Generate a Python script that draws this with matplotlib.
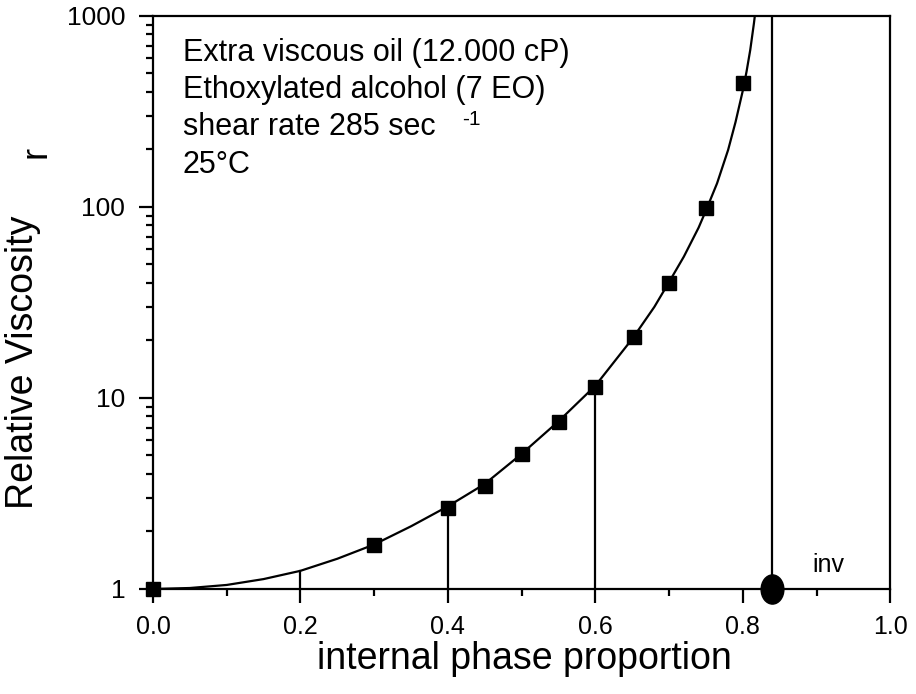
import matplotlib
matplotlib.use("Agg")
import matplotlib.pyplot as plt
from matplotlib.markers import MarkerStyle
from matplotlib.transforms import Affine2D
from matplotlib.ticker import (FixedLocator, FixedFormatter, MultipleLocator,
                               LogLocator, NullFormatter, FormatStrFormatter)

plt.rcParams['font.family'] = ['Liberation Sans', 'DejaVu Sans']

# measured points (internal phase proportion vs relative viscosity)
phi_data = [0.0, 0.3, 0.4, 0.45, 0.5, 0.55, 0.6, 0.653, 0.7, 0.75, 0.8]
eta_data = [1.0, 1.7, 2.66, 3.46, 5.1, 7.5, 11.4, 20.9, 40, 99, 446]

# fitted curve
phi_curve = [0.0, 0.05, 0.1, 0.15, 0.2, 0.25, 0.3, 0.35, 0.4, 0.45, 0.5,
             0.55, 0.6, 0.65, 0.68, 0.7, 0.72, 0.74, 0.75, 0.765, 0.78,
             0.79, 0.8, 0.805, 0.81, 0.815, 0.8162]
eta_curve = [1.0, 1.012, 1.05, 1.127, 1.245, 1.44, 1.71, 2.13, 2.71, 3.55, 5.1,
             7.55, 11.6, 20.4, 30, 40.5, 55, 78, 96, 133, 199,
             278, 408, 512, 664, 916, 1000]

# drop lines from the axis up to the curve
phi_drop = [0.2, 0.4, 0.6]
eta_drop = [1.245, 2.7, 11.5]

# inversion point
phi_inv = 0.84

info_lines = ["Extra viscous oil (12.000 cP)",
              "Ethoxylated alcohol (7 EO)",
              "shear rate 285 sec",
              "25\u00b0C"]

fig = plt.figure(figsize=(9.16, 6.94), dpi=100)
ax = fig.add_axes([0.167, 0.1513, 0.805, 0.8257])

ax.set_yscale('log')
ax.set_xlim(0, 1.0)
ax.set_ylim(1, 1000)

ax.plot(phi_curve, eta_curve, color='black', lw=1.6, zorder=3)
ax.plot(phi_data, eta_data, ls='none', marker='s', ms=10, color='black',
        zorder=4, clip_on=False)

for p, e in zip(phi_drop, eta_drop):
    ax.plot([p, p], [1, e], color='black', lw=1.6, zorder=2)
ax.plot([phi_inv, phi_inv], [1, 1000], color='black', lw=1.6, zorder=2)

ell = MarkerStyle('o', transform=Affine2D().scale(0.78, 1.0))
ax.plot([phi_inv], [1], ls='none', marker=ell, ms=21, color='black',
        zorder=5, clip_on=False)
ax.text(0.916, 1.34, "inv", fontsize=18, ha='center', va='center')

# axis styling
for s in ax.spines.values():
    s.set_linewidth(1.6)
ax.xaxis.set_major_locator(MultipleLocator(0.2))
ax.xaxis.set_minor_locator(MultipleLocator(0.1))
ax.xaxis.set_major_formatter(FormatStrFormatter('%.1f'))
ax.yaxis.set_major_locator(FixedLocator([1, 10, 100, 1000]))
ax.yaxis.set_major_formatter(FixedFormatter(['1', '10', '100', '1000']))
ax.yaxis.set_minor_locator(LogLocator(base=10, subs=range(2, 10)))
ax.yaxis.set_minor_formatter(NullFormatter())
ax.tick_params(which='major', direction='out', length=10, width=1.6,
               top=False, right=False)
ax.tick_params(which='minor', direction='out', length=5, width=1.6,
               top=False, right=False)
ax.tick_params(axis='y', which='major', pad=10, labelsize=19)
ax.tick_params(axis='x', which='major', pad=9, labelsize=18)

# annotation block
ys = [0.921, 0.857, 0.792, 0.726]
for txt, y in zip(info_lines, ys):
    ax.text(0.0407, y, txt, transform=ax.transAxes, fontsize=22,
            ha='left', va='baseline')
ax.text(0.419, 0.810, "-1", transform=ax.transAxes, fontsize=15,
        ha='left', va='baseline')

# axis titles
fig.text(0.025, 0.478, "Relative Viscosity", rotation=90, fontsize=27,
         ha='center', va='center')
fig.text(0.039, 0.781, "r", rotation=90, fontsize=26, ha='center', va='center')
fig.text(0.573, 0.036, "internal phase proportion", fontsize=27,
         ha='center', va='baseline')

fig.savefig("out.png", dpi=100)
plt.close(fig)
